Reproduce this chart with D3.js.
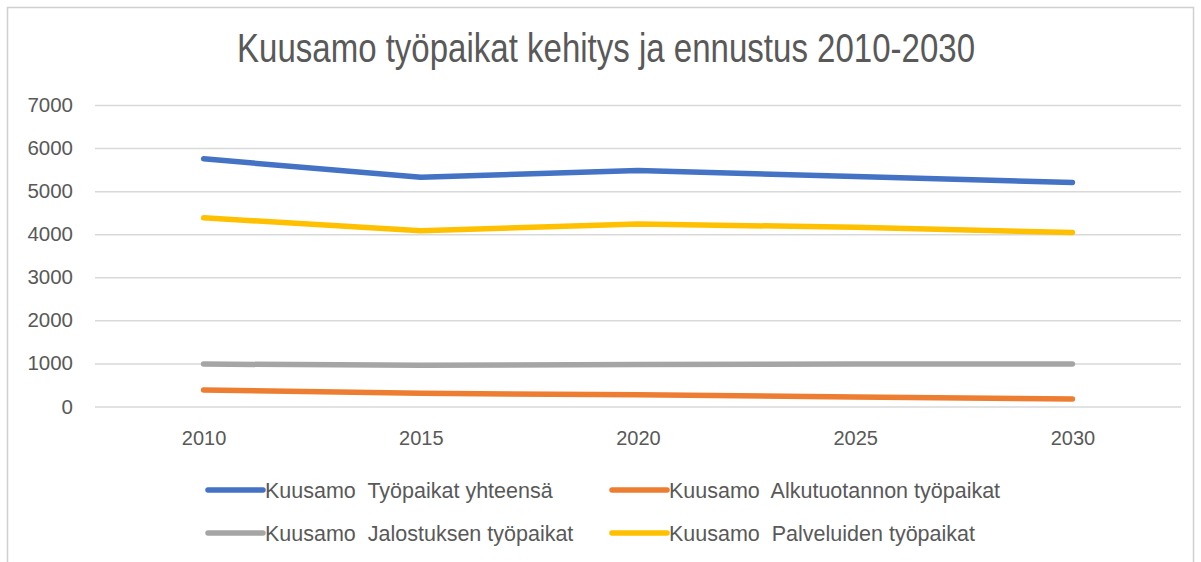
<!DOCTYPE html>
<html lang="fi">
<head>
    <meta charset="UTF-8"/>
    <title>Kuusamo työpaikat</title>
    <script src="https://d3js.org/d3.v7.min.js"></script>
    <style>
        body { margin: 0; background: #fff; }
        text { font-family: "Liberation Sans Narrow", "Liberation Sans", Arial, sans-serif; fill: #595959; }
        .legend text { white-space: pre; }
    </style>
</head>
<body>
<div id="chart"></div>
<script>
    // data
    const years = ["2010", "2015", "2020", "2025", "2030"];
    const seriesNames = [
        "Kuusamo  Työpaikat yhteensä",
        "Kuusamo  Alkutuotannon työpaikat",
        "Kuusamo  Jalostuksen työpaikat",
        "Kuusamo  Palveluiden työpaikat"
    ];
    const total = [5750, 5320, 5480, 5340, 5200];
    const primary = [385, 308, 270, 222, 172];
    const refining = [985, 955, 975, 985, 985];
    const services = [4380, 4080, 4240, 4160, 4040];
    const yTicks = [0, 1000, 2000, 3000, 4000, 5000, 6000, 7000];

    const colors = ["#4472C4", "#ED7D31", "#A5A5A5", "#FFC000"];
    const seriesValues = [total, primary, refining, services];

    const W = 1201, H = 562;
    const svg = d3.select("#chart").append("svg")
        .attr("width", W).attr("height", H);

    // chart area border
    svg.append("rect")
        .attr("x", 7.5).attr("y", 7.5)
        .attr("width", 1186).attr("height", 570)
        .attr("fill", "#fff").attr("stroke", "#d0d0d0").attr("stroke-width", 1.5);

    svg.append("text")
        .attr("x", 606).attr("y", 62)
        .attr("text-anchor", "middle")
        .attr("textLength", 738).attr("lengthAdjust", "spacingAndGlyphs")
        .style("font-size", "40px")
        .text("Kuusamo työpaikat kehitys ja ennustus 2010-2030");

    const x = d3.scalePoint().domain(years).range([95, 1181]).padding(0.5);
    const y = d3.scaleLinear().domain([0, 7000]).range([406.5, 105]);

    // gridlines + y labels
    const yAxis = svg.append("g")
        .attr("transform", "translate(95,0)")
        .call(d3.axisLeft(y).tickValues(yTicks).tickSize(-1086).tickPadding(22).tickFormat(d3.format("d")));
    yAxis.select(".domain").remove();
    yAxis.selectAll("line").attr("stroke", "#d9d9d9").attr("stroke-width", 1.5);
    yAxis.selectAll("text").style("font-size", "20.5px").style("font-family", "Liberation Sans, Arial, sans-serif").attr("fill", "#595959");

    // x labels
    const xAxis = svg.append("g")
        .attr("transform", "translate(0,406.5)")
        .call(d3.axisBottom(x).tickSize(0).tickPadding(24));
    xAxis.select(".domain").remove();
    xAxis.selectAll("text").style("font-size", "20px").style("font-family", "Liberation Sans, Arial, sans-serif").attr("fill", "#595959");

    const line = d3.line()
        .x((d, i) => x(years[i]))
        .y(d => y(d));

    seriesValues.forEach(function(vals, k) {
        svg.append("path")
            .datum(vals)
            .attr("fill", "none")
            .attr("stroke", colors[k])
            .attr("stroke-width", 5.5)
            .attr("stroke-linecap", "round")
            .attr("stroke-linejoin", "round")
            .attr("d", line);
    });

    // legend
    const legendPos = [[208, 490], [612, 490], [208, 533], [612, 533]];
    seriesNames.forEach(function(name, k) {
        const g = svg.append("g").attr("class", "legend")
            .attr("transform", "translate(" + legendPos[k][0] + "," + legendPos[k][1] + ")");
        g.append("line").attr("x1", 0).attr("x2", 55).attr("y1", 0).attr("y2", 0)
            .attr("stroke", colors[k]).attr("stroke-width", 5.5).attr("stroke-linecap", "round");
        g.append("text").attr("x", 57).attr("y", 0).attr("dy", "0.35em")
            .style("font-size", "21.5px")
            .text(name);
    });
</script>
</body>
</html>
